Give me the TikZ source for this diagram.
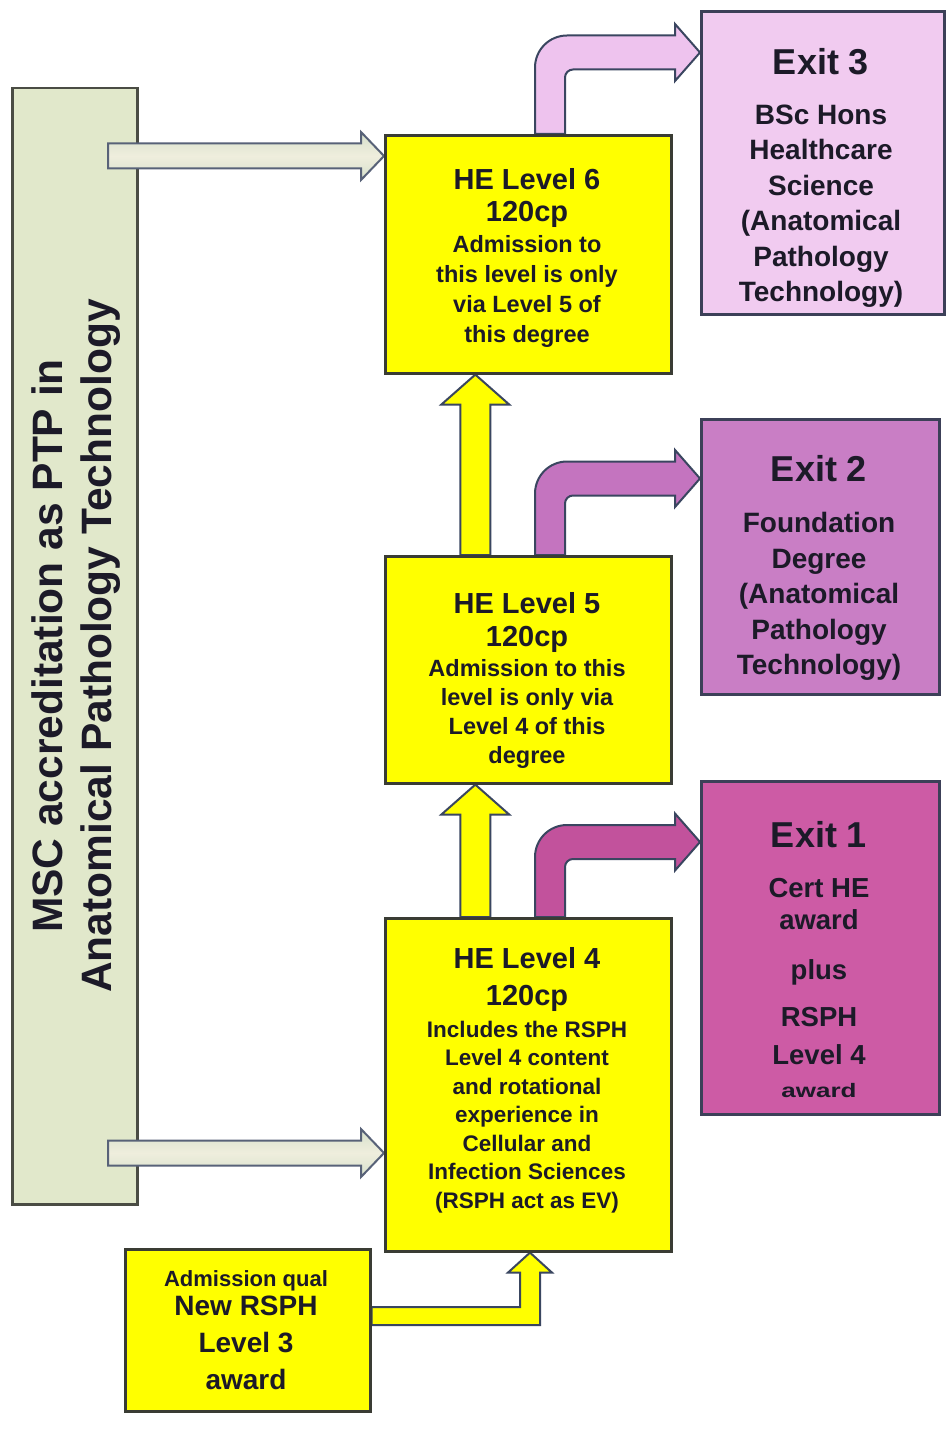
\documentclass[tikz,border=0pt]{standalone}
\usepackage{fontspec}
\usepackage{graphicx}
\setmainfont{Liberation Sans}
\usetikzlibrary{calc}
\pgfdeclarelayer{bottom}
\pgfdeclarelayer{background}
\pgfsetlayers{bottom,background,main}
\definecolor{ink}{HTML}{1C1A28}
\definecolor{yel}{HTML}{FFFF00}
\definecolor{boxline}{HTML}{3A3C34}
\definecolor{exitline}{HTML}{3C4058}
\definecolor{exthree}{HTML}{F1CBF0}
\definecolor{extwo}{HTML}{C97EC5}
\definecolor{exone}{HTML}{CD5BA5}
\definecolor{arthree}{HTML}{EEC3EE}
\definecolor{artwo}{HTML}{C474BF}
\definecolor{arone}{HTML}{C2529C}
\definecolor{msc}{HTML}{E1E8CB}
\definecolor{mscline}{HTML}{4A4C44}
\definecolor{garr}{HTML}{D6E0CC}
\definecolor{garrmid}{HTML}{EFEEDD}
\definecolor{arrline}{HTML}{3A4660}
\newcommand\myfs[2]{\fontsize{#1}{#2}\selectfont}
\newcommand\elbowarrow[4]{%
 \path[#4] let \p1=(#1.north), \p2=(#2.west), \p3=(#3) in
 (\x3-15pt,\y1) -- (\x3-15pt,\y3-15pt)
 .. controls (\x3-15pt,\y3+2.7pt) and (\x3-0.7pt,\y3+17pt) .. (\x3+17pt,\y3+17pt)
 -- (\x2-25pt,\y3+17pt) -- (\x2-25pt,\y3+28.5pt) -- (\x2,\y3) -- (\x2-25pt,\y3-28.5pt)
 -- (\x2-25pt,\y3-17pt) -- (\x3+23pt,\y3-17pt)
 .. controls (\x3+18.6pt,\y3-17pt) and (\x3+15pt,\y3-20.6pt) .. (\x3+15pt,\y3-25pt)
 -- (\x3+15pt,\y1) -- cycle;}
\newcommand\yelarrow[2]{%
 \path[yarrow] let \p1=(#1.north), \p2=(#2.south) in
 (\x1-68pt,\y1) -- (\x1-68pt,\y2-30pt) -- (\x1-87pt,\y2-30pt) -- (\x1-53pt,\y2)
 -- (\x1-19pt,\y2-30pt) -- (\x1-38pt,\y2-30pt) -- (\x1-38pt,\y1) -- cycle;}
\newcommand\grayarrow[2]{%
 \path[garrow] let \p1=(#1), \p2=(#2.west) in
 (\x1,\y1+12.5pt) -- (\x2-23pt,\y1+12.5pt) -- (\x2-23pt,\y1+24pt) -- (\x2,\y1)
 -- (\x2-23pt,\y1-24pt) -- (\x2-23pt,\y1-12.5pt) -- (\x1,\y1-12.5pt) -- cycle;}
\begin{document}
\begin{tikzpicture}[x=1pt,y=-1pt,
  txt/.style={text=ink, align=center, inner sep=0pt},
  lbox/.style={draw=boxline, line width=2.6pt, fill=yel, anchor=north west, inner sep=0pt},
  xbox/.style={draw=exitline, line width=2.6pt, anchor=north west, inner sep=0pt},
  yarrow/.style={draw=arrline, line width=2pt, fill=yel, line join=miter},
  garrow/.style={draw=arrline!85, line width=2pt, top color=garr, bottom color=garr, middle color=garrmid},
  earrow/.style={draw=arrline, line width=2pt, fill=#1}]
\useasboundingbox (0,0) rectangle (946,1439);
\begin{pgfonlayer}{bottom}
\fill[white] (0,0) rectangle (946,1439);
\node[draw=mscline, line width=2.5pt, fill=msc, anchor=north west, inner sep=0pt,
  minimum width=125pt, minimum height=1116pt] (msc) at (11,87) {};
\end{pgfonlayer}
\node[txt, rotate=90, font=\bfseries\myfs{42.5}{49}] (msct) at (76,646)
  {MSC accreditation as PTP in\\Anatomical Pathology Technology};
% level boxes
\node[lbox, minimum width=286pt, minimum height=238pt] (l6) at (384,134) {};
\node[lbox, minimum width=286pt, minimum height=227pt] (l5) at (384,555) {};
\node[lbox, minimum width=286pt, minimum height=333pt] (l4) at (384,917) {};
\node[lbox, minimum width=245pt, minimum height=162pt] (adm) at (124,1248) {};
% exit boxes
\node[xbox, fill=exthree, minimum width=243pt, minimum height=303pt] (e3) at (700,10) {};
\node[xbox, fill=extwo, minimum width=238pt, minimum height=275pt] (e2) at (700,418) {};
\node[xbox, fill=exone, minimum width=238pt, minimum height=333pt] (e1) at (700,780) {};
% texts
\node[txt, font=\bfseries\myfs{23.5}{30}] (l6t) at (527,258)
 {{\myfs{29}{30}HE Level 6}\\[2pt]{\myfs{29}{30}120cp}\\[1pt]Admission to\\this level is only\\via Level 5 of\\this degree};
\node[txt, font=\bfseries\myfs{23.5}{29}] (l5t) at (527,680)
 {{\myfs{29}{30}HE Level 5}\\[4pt]{\myfs{29}{30}120cp}\\[1pt]Admission to this\\level is only via\\Level 4 of this\\degree};
\node[txt, font=\bfseries\myfs{22.5}{28.5}] (l4t) at (527,1080)
 {{\myfs{29}{30}HE Level 4}\\[8.5pt]{\myfs{29}{30}120cp}\\[3.5pt]Includes the RSPH\\Level 4 content\\and rotational\\experience in\\Cellular and\\Infection Sciences\\(RSPH act as EV)};
\node[txt, font=\bfseries\myfs{28}{37}] (admt) at (246,1330)
 {{\myfs{22}{24}Admission qual}\\[-8pt]New RSPH\\Level 3\\award};
\node[txt, font=\bfseries\myfs{28}{35.5}] (e3t) at (821,178)
 {{\myfs{36}{36}Exit 3}\\[14.5pt]BSc Hons\\Healthcare\\Science\\(Anatomical\\Pathology\\Technology)};
\node[txt, font=\bfseries\myfs{28}{35.5}] (e2t) at (819,568)
 {{\myfs{36}{36}Exit 2}\\[15.5pt]Foundation\\Degree\\(Anatomical\\Pathology\\Technology)};
\node[txt, font=\bfseries\myfs{27.5}{33}] (e1t) at (819,960)
 {{\myfs{36}{36}Exit 1}\\[17pt]Cert HE\\[-1pt]award\\[17pt]plus\\[14pt]RSPH\\[5pt]Level 4\\\scalebox{1}[0.75]{\myfs{26}{28}award}};
% connector anchor points
\coordinate (g1) at (108,156);
\coordinate (g2) at (108,1153);
\coordinate (c3) at (550,52.5);
\coordinate (c2) at (550,478.5);
\coordinate (c1) at (550,842);
\coordinate (ca) at (530,1316);
\begin{pgfonlayer}{background}
\grayarrow{g1}{l6}
\grayarrow{g2}{l4}
\yelarrow{l5}{l6}
\yelarrow{l4}{l5}
\path[yarrow] let \p1=(adm.east), \p2=(l4.south), \p3=(ca) in
 (\x1,\y3+9pt) -- (\x3-10pt,\y3+9pt) -- (\x3-10pt,\y2-20pt) -- (\x3-22pt,\y2-20pt) -- (\x3,\y2)
 -- (\x3+22pt,\y2-20pt) -- (\x3+10pt,\y2-20pt) -- (\x3+10pt,\y3-9pt) -- (\x1,\y3-9pt) -- cycle;
\elbowarrow{l6}{e3}{c3}{earrow=arthree}
\elbowarrow{l5}{e2}{c2}{earrow=artwo}
\elbowarrow{l4}{e1}{c1}{earrow=arone}
\end{pgfonlayer}
\end{tikzpicture}
\end{document}
